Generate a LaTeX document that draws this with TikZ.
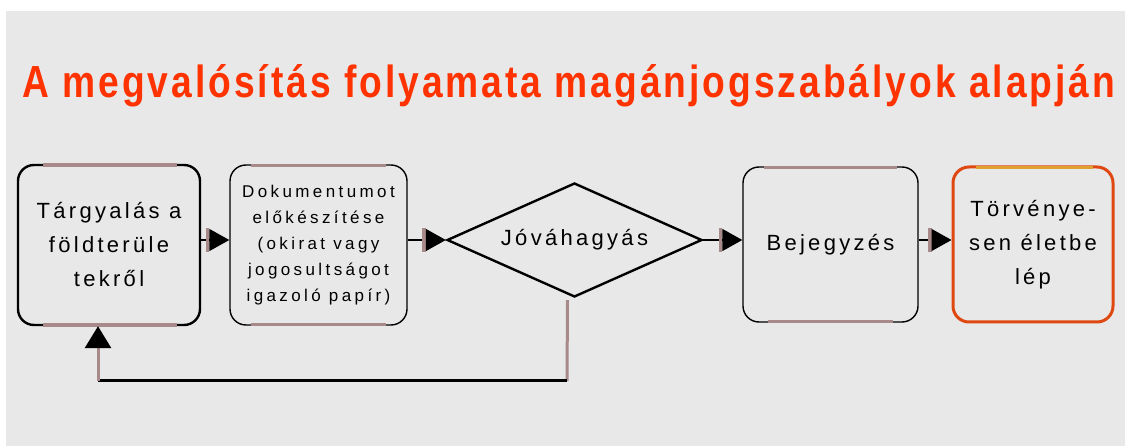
\documentclass[tikz,border=0pt]{standalone}
\usepackage{fontspec}
\usepackage{graphicx}
\setmainfont{Liberation Sans}
\newfontfamily\boxfont[LetterSpace=15]{Liberation Sans}
\newfontfamily\smallboxfont[LetterSpace=20]{Liberation Sans}
\newfontfamily\titlefont[LetterSpace=8]{Liberation Sans}
\usetikzlibrary{shapes.geometric,arrows.meta}
\definecolor{bg}{HTML}{E8E8E8}
\definecolor{titlered}{HTML}{FF3300}
\definecolor{stub}{HTML}{A88A8A}
\definecolor{hot}{HTML}{E04812}
\definecolor{hottop}{HTML}{E0A030}
\begin{document}
\begin{tikzpicture}[x=1pt,y=-1pt,
  box/.style={draw=black,line width=1.4pt,rounded corners=16pt,align=center,inner sep=2pt,
    font=\boxfont\fontsize{22}{34}\selectfont},
  smallbox/.style={box,font=\smallboxfont\fontsize{17}{26}\selectfont},
  stubline/.style={draw=stub,line width=3.5pt},
  arr/.style={line width=1.2pt,-{Bar[width=24pt,line width=3.5pt,color=stub]Triangle[length=20pt,width=22pt]}},
  fb/.style={draw=stub,line width=3pt}
]
\useasboundingbox (0,0) rectangle (1125,446);
\fill[bg] (6,11) rectangle (1125,446);

\node[anchor=base west,inner sep=0,text=titlered] (title) at (22,98)
  {\resizebox{1093pt}{33pt}{\titlefont\fontsize{46}{50}\selectfont\bfseries A megvalósítás folyamata magánjogszabályok alapján}};

\node[box,line width=2.4pt,minimum width=182pt,minimum height=160pt] (b1) at (109,245)
  {Tárgyalás a\\földterüle\\tekről};
\node[smallbox,minimum width=177pt,minimum height=160pt] (b2) at (318.5,245)
  {Dokumentumot\\előkészítése\\(okirat vagy\\jogosultságot\\igazoló papír)};
\node[draw=black,diamond,line width=2.4pt,minimum width=255pt,minimum height=114pt,
  inner sep=0pt,aspect=2.24,font=\boxfont\fontsize{22}{34}\selectfont] (d) at (574.5,240) {Jóváhagyás};
\node[box,minimum width=175pt,minimum height=155pt] (b4) at (830.5,244.5) {Bejegyzés};
\node[box,draw=hot,line width=3pt,minimum width=160pt,minimum height=155pt] (b5) at (1033,244.5)
  {Törvénye-\\sen életbe\\lép};

% brown/orange edge marks
\draw[stubline] ([xshift=26pt,yshift=-1pt]b1.north west) -- ([xshift=-24pt,yshift=-1pt]b1.north east);
\draw[stubline] ([xshift=26pt,yshift=1pt]b1.south west) -- ([xshift=-24pt,yshift=1pt]b1.south east);
\draw[stubline] ([xshift=22pt,yshift=-1pt]b2.north west) -- ([xshift=-22pt,yshift=-1pt]b2.north east);
\draw[stubline] ([xshift=22pt,yshift=1pt]b2.south west) -- ([xshift=-22pt,yshift=1pt]b2.south east);
\draw[stubline] ([xshift=22pt,yshift=-1pt]b4.north west) -- ([xshift=-22pt,yshift=-1pt]b4.north east);
\draw[stubline] ([xshift=26pt,yshift=1pt]b4.south west) -- ([xshift=-26pt,yshift=1pt]b4.south east);
\draw[draw=hottop,line width=3.5pt] ([xshift=24pt,yshift=-2pt]b5.north west) -- ([xshift=-22pt,yshift=-2pt]b5.north east);

% arrows
\draw[arr] (b1.east |- d.west) -- (b2.west |- d.west);
\draw[arr] (b2.east |- d.west) -- (d.west);
\draw[arr] (d.east) -- (b4.west |- d.east);
\draw[arr] (b4.east |- d.east) -- (b5.west |- d.east);

% feedback loop
\coordinate (f1) at (567,381);
\coordinate (f2) at (98,381);
\draw[fb] ([xshift=-7pt,yshift=-2pt]d.south) -- (f1);
\draw[black,line width=3pt] (f1) -- (f2);
\draw[fb,-{Triangle[length=22pt,width=26pt,color=black]}] (f2) -- (b1.south -| f2);
\end{tikzpicture}
\end{document}
